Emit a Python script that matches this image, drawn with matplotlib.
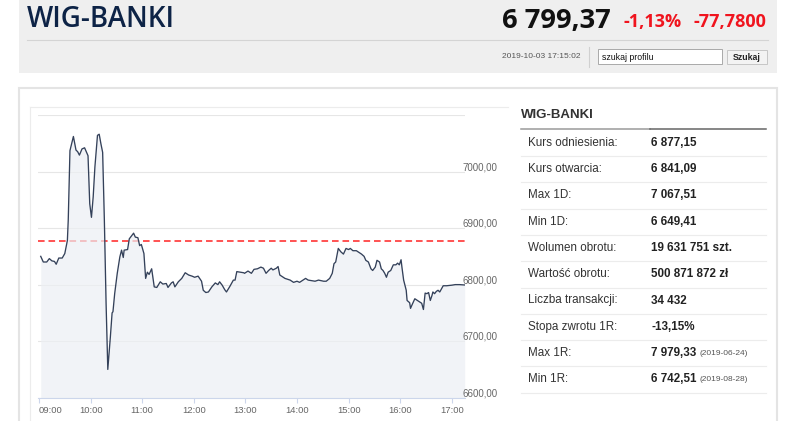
"""WIG-BANKI intraday chart with quote header and statistics table"""
import matplotlib

matplotlib.use("Agg")
import matplotlib.pyplot as plt
from matplotlib.patches import Rectangle
from matplotlib.transforms import blended_transform_factory

## Data
TIMES = [
    "09:02", "09:05", "09:09", "09:12", "09:15", "09:18", "09:20", "09:23", "09:27", "09:30",
    "09:33", "09:34", "09:36", "09:40", "09:43", "09:45", "09:47", "09:50", "09:53", "09:55",
    "09:57", "09:59", "10:01", "10:03", "10:05", "10:08", "10:10", "10:12", "10:14", "10:16",
    "10:18", "10:20", "10:23", "10:25", "10:26", "10:28", "10:31", "10:34", "10:36", "10:38",
    "10:39", "10:43", "10:45", "10:48", "10:50", "10:52", "10:55", "10:57", "10:59", "11:02",
    "11:04", "11:06", "11:08", "11:11", "11:14", "11:17", "11:21", "11:24", "11:28", "11:30",
    "11:34", "11:36", "11:38", "11:42", "11:46", "11:50", "11:54", "11:58", "12:01", "12:05",
    "12:09", "12:11", "12:14", "12:17", "12:21", "12:25", "12:28", "12:30", "12:33", "12:36",
    "12:38", "12:42", "12:46", "12:48", "12:50", "12:54", "12:58", "12:59", "13:03", "13:07",
    "13:10", "13:14", "13:18", "13:21", "13:24", "13:27", "13:30", "13:32", "13:36", "13:38",
    "13:40", "13:46", "13:52", "13:56", "14:00", "14:03", "14:07", "14:10", "14:13", "14:17",
    "14:21", "14:25", "14:31", "14:34", "14:38", "14:41", "14:43", "14:45", "14:48", "14:51",
    "14:54", "14:57", "15:00", "15:02", "15:05", "15:09", "15:12", "15:15", "15:18", "15:20",
    "15:23", "15:26", "15:28", "15:31", "15:33", "15:36", "15:38", "15:40", "15:42", "15:44",
    "15:46", "15:49", "15:52", "15:55", "15:57", "15:59", "16:01", "16:02", "16:04", "16:07",
    "16:08", "16:11", "16:12", "16:14", "16:17", "16:20", "16:22", "16:25", "16:27", "16:29",
    "16:31", "16:33", "16:35", "16:37", "16:38", "16:40", "16:42", "16:44", "16:46", "16:50",
    "16:54", "17:00", "17:04", "17:09", "17:15",
]
PRICES = [
    6850, 6840, 6840, 6846, 6842, 6841, 6836, 6847, 6847, 6855,
    6878, 6914, 7037, 7062, 7038, 7035, 7029, 7040, 7042, 7035,
    7028, 6943, 6919, 6955, 7008, 7064, 7066, 7049, 7034, 6914,
    6767, 6650, 6708, 6750, 6752, 6784, 6820, 6849, 6861, 6848,
    6861, 6862, 6881, 6887, 6891, 6884, 6883, 6869, 6871, 6855,
    6811, 6822, 6818, 6828, 6796, 6795, 6805, 6801, 6802, 6795,
    6803, 6805, 6796, 6805, 6811, 6821, 6817, 6815, 6813, 6815,
    6806, 6790, 6786, 6787, 6796, 6803, 6800, 6805, 6799, 6791,
    6787, 6797, 6808, 6808, 6823, 6822, 6821, 6820, 6824, 6820,
    6827, 6828, 6831, 6829, 6820, 6825, 6829, 6826, 6829, 6832,
    6817, 6811, 6808, 6804, 6806, 6804, 6808, 6811, 6808, 6807,
    6806, 6808, 6806, 6806, 6811, 6820, 6837, 6840, 6864, 6858,
    6854, 6864, 6862, 6864, 6860, 6860, 6857, 6854, 6850, 6843,
    6840, 6828, 6825, 6831, 6843, 6840, 6828, 6825, 6820, 6813,
    6822, 6825, 6835, 6835, 6838, 6835, 6844, 6831, 6808, 6790,
    6772, 6768, 6758, 6765, 6775, 6772, 6770, 6767, 6756, 6785,
    6784, 6786, 6772, 6781, 6787, 6784, 6788, 6790, 6787, 6798,
    6798, 6799, 6800, 6800, 6799.37,
]
REF_PRICE = 6877.15
Y_TICKS = [6600, 6700, 6800, 6900, 7000, 7100]
Y_LABELS = ["6600,00", "6700,00", "6800,00", "6900,00", "7000,00"]
X_TICKS = [9, 10, 11, 12, 13, 14, 15, 16, 17]
X_LABELS = ["09:00", "10:00", "11:00", "12:00", "13:00", "14:00", "15:00", "16:00", "17:00"]

NAME = "WIG-BANKI"
LAST = "6 799,37"
CHANGE_PCT = "-1,13%"
CHANGE_ABS = "-77,7800"
STAMP = "2019-10-03 17:15:02"

STAT_LABELS = [
    "Kurs odniesienia:", "Kurs otwarcia:", "Max 1D:", "Min 1D:", "Wolumen obrotu:",
    "Wartość obrotu:", "Liczba transakcji:", "Stopa zwrotu 1R:", "Max 1R:", "Min 1R:",
]
STAT_VALUES = [
    "6 877,15", "6 841,09", "7 067,51", "6 649,41", "19 631 751 szt.",
    "500 871 872 zł", "34 432", "-13,15%", "7 979,33", "6 742,51",
]
STAT_NOTES = ["", "", "", "", "", "", "", "", "(2019-06-24)", "(2019-08-28)"]

W, H = 786, 421
HEAD_FONT = ["Open Sans", "DejaVu Sans"]
BODY_FONT = ["Liberation Sans", "DejaVu Sans"]


def to_hours(stamp):
    """'HH:MM' -> float hours"""
    hh, mm = stamp.split(":")
    return int(hh) + int(mm) / 60


fig = plt.figure(figsize=(W / 100, H / 100), dpi=100)
fig.patch.set_facecolor("white")

## Page background drawn in pixel coordinates
bg = fig.add_axes([0, 0, 1, 1])
bg.set_xlim(0, W)
bg.set_ylim(H, 0)
bg.axis("off")

# header band
bg.add_patch(Rectangle((19, 0), 758, 73, fc="#efefef", ec="none"))
bg.plot([27, 768], [40, 40], color="#d4d4d4", lw=0.8)
bg.text(27, 27, NAME, family=HEAD_FONT, fontsize=20, fontweight="semibold",
        color="#0d2346", va="baseline", ha="left")
bg.text(502, 28, LAST, family=HEAD_FONT, fontsize=19.7, fontweight="bold",
        color="#111111", va="baseline", ha="left")
bg.text(624, 27, CHANGE_PCT, family=HEAD_FONT, fontsize=13, fontweight="bold",
        color="#f0141e", va="baseline", ha="left")
bg.text(693, 27, CHANGE_ABS, family=HEAD_FONT, fontsize=13, fontweight="bold",
        color="#f0141e", va="baseline", ha="left")
bg.text(580, 57, STAMP, family=BODY_FONT, fontsize=6, color="#555555",
        va="center", ha="right")
bg.plot([589, 589], [47, 67], color="#d0d0d0", lw=0.8)
bg.add_patch(Rectangle((598, 49), 124, 15, fc="white", ec="#a9a9a9", lw=0.7))
bg.text(602, 57, "szukaj profilu", family=BODY_FONT, fontsize=6.3,
        color="#111111", va="center", ha="left")
bg.add_patch(Rectangle((727, 50), 40, 14, fc="#f3f3f3", ec="#c6c6c6", lw=0.7))
bg.text(747, 57.5, "Szukaj", family=BODY_FONT, fontsize=6.3, fontweight="bold",
        color="#222222", va="center", ha="center")

# content panel and chart frame (top and left edges only)
bg.add_patch(Rectangle((19, 88), 758, 340, fc="white", ec="#e4e4e4", lw=1.5))
bg.plot([30, 508], [107, 107], color="#ececec", lw=0.8)
bg.plot([30, 30], [107, 425], color="#ececec", lw=0.8)

## Statistics table
bg.text(521, 115, NAME, family=BODY_FONT, fontsize=9.5, fontweight="bold",
        color="#333333", va="center", ha="left")
bg.plot([521, 650], [129.3, 129.3], color="#9a9a9a", lw=1.1)
bg.plot([650, 766], [129.3, 129.3], color="#666666", lw=1.1)
for i, (label, value, note) in enumerate(zip(STAT_LABELS, STAT_VALUES, STAT_NOTES)):
    row_y = 142.7 + 26.3 * i
    bg.text(528, row_y, label, family=BODY_FONT, fontsize=8.4, color="#333333",
            va="center", ha="left")
    val = bg.text(651, row_y, value, family=BODY_FONT, fontsize=8.4,
                  fontweight="bold", color="#222222", va="center", ha="left")
    if note:
        bg.annotate(note, xy=(1, 0.18), xycoords=val, xytext=(2, 0),
                    textcoords="offset points", family=BODY_FONT, fontsize=6,
                    color="#555555", va="bottom", ha="left")
    bg.plot([521, 766], [row_y + 13.3, row_y + 13.3], color="#ececec", lw=0.8)

## Intraday chart
px_left, px_right, px_top, px_bottom = 38, 465, 115, 397.7
ax = fig.add_axes([px_left / W, 1 - px_bottom / H,
                   (px_right - px_left) / W, (px_bottom - px_top) / H])
ax.patch.set_alpha(0)

hours = [to_hours(t) for t in TIMES]
ax.axhline(REF_PRICE, color="#ff5252", lw=1.4, ls=(0, (3.4, 2.0)), zorder=1)
ax.fill_between(hours, PRICES, Y_TICKS[0], color="#eceff4", alpha=0.7, lw=0, zorder=2)
ax.plot(hours, PRICES, color="#34415a", lw=0.95, zorder=3)

px_per_hour = 51.6
ax.set_xlim(9 - (39 - px_left) / px_per_hour, 9 + (px_right - 39) / px_per_hour)
ax.set_ylim(Y_TICKS[0], Y_TICKS[-1])
ax.set_yticks(Y_TICKS)
ax.yaxis.grid(True, color="#e6e6e6", lw=0.8)
ax.set_axisbelow(True)
ax.tick_params(axis="y", length=0, labelleft=False)

ax.set_xticks(X_TICKS)
ax.set_xticklabels(X_LABELS, family=BODY_FONT, fontsize=6.8, color="#666666")
ax.get_xticklabels()[0].set_horizontalalignment("left")
ax.tick_params(axis="x", direction="out", length=3.8, width=0.8,
               color="#ccd6eb", pad=2.3)

for name in ("left", "right", "top"):
    ax.spines[name].set_visible(False)
ax.spines["bottom"].set_color("#ccd6eb")
ax.spines["bottom"].set_linewidth(0.8)

trans = blended_transform_factory(ax.transAxes, ax.transData)
for value, label in zip(Y_TICKS, Y_LABELS):
    ax.text((462 - px_left) / (px_right - px_left), value + 2.5, label, transform=trans,
            family=BODY_FONT, fontsize=7, color="#666666", va="baseline", ha="left",
            clip_on=False)

fig.savefig("out.png", dpi=100)
